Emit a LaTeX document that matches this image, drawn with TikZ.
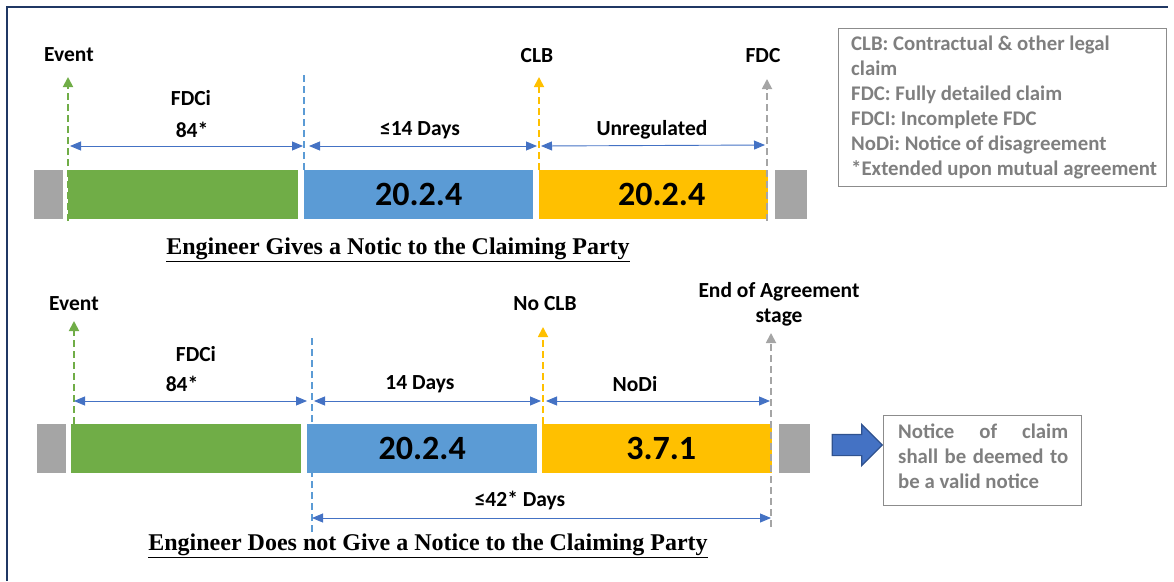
\documentclass[tikz,border=0pt]{standalone}
\usepackage{fontspec}
\setmainfont{Carlito}
\newfontfamily\titlefont{Liberation Serif}
\usetikzlibrary{arrows.meta,shapes.arrows,calc}
\frenchspacing
\definecolor{cgreen}{HTML}{70AD47}
\definecolor{cblue}{HTML}{5B9BD5}
\definecolor{cyellow}{HTML}{FFC000}
\definecolor{cgray}{HTML}{A5A5A5}
\definecolor{dimblue}{HTML}{4472C4}
\definecolor{darkblue}{HTML}{2F528F}
\definecolor{navy}{HTML}{203864}
\definecolor{lgray}{HTML}{7F7F7F}
\definecolor{bgray}{HTML}{8C8C8C}
\begin{document}
\begin{tikzpicture}[x=1pt,y=-1pt,
  seg/.style={draw=none, inner sep=0pt, minimum height=49pt, anchor=north west, font=\fontsize{34}{36}\selectfont\bfseries},
  lbl/.style={inner sep=0pt, font=\fontsize{21.5}{25}\selectfont\bfseries},
  marker/.style={dashed, dash pattern=on 7pt off 4pt, line width=1.8pt, -{Triangle[width=10pt,length=10pt]}},
  plainmark/.style={dashed, dash pattern=on 7pt off 4pt, line width=1.8pt},
  dim/.style={dimblue, line width=0.9pt, {Triangle[width=9pt,length=11pt]}-{Triangle[width=9pt,length=11pt]}},
  ttl/.style={inner sep=0pt, font=\titlefont\fontsize{24}{28}\selectfont\bfseries},
  gbox/.style={draw=bgray, line width=1.2pt},
  gtext/.style={text=lgray, inner sep=0pt, anchor=north west, font=\fontsize{20.8}{25}\selectfont\bfseries}
]
\useasboundingbox (0,0) rectangle (1174,581);
\draw[navy, line width=2.5pt] (7,581) -- (7,7) -- (1168,7);

% ---------- top timeline ----------
\node[seg, fill=cgray, minimum width=29pt] (tg0) at (34,170) {};
\node[seg, fill=cgreen, minimum width=230pt] (tg1) at (68,170) {};
\node[seg, fill=cblue, minimum width=229pt] (tb1) at (304,170) {20.2.4};
\node[seg, fill=cyellow, minimum width=229pt] (ty1) at (539,170) {\hspace*{16pt}20.2.4};
\node[seg, fill=cgray, minimum width=32pt] (tg2) at (775,170) {};

\node[lbl] (tev) at (69,55) {Event};
\node[lbl] (tclb) at (537,56) {CLB};
\node[lbl] (tfdc) at (763,56) {FDC};

\coordinate (tevb) at (68,221);
\coordinate (tevt) at (68,77);
\coordinate (tfb) at (304,170);
\coordinate (tft) at (304,73);
\coordinate (tcb) at (539,170);
\coordinate (tct) at (539,77);
\coordinate (tdb) at (767,221);
\coordinate (tdt) at (767,79);
\draw[marker, cgreen] (tevb) -- (tevt);
\draw[plainmark, cblue] (tfb) -- (tft);
\draw[marker, cyellow] (tcb) -- (tct);
\draw[marker, cgray] (tdb) -- (tdt);

\coordinate (ta0) at (70,146);
\coordinate (ta1) at (303,146);
\coordinate (ta2) at (309,146);
\coordinate (ta3) at (537,146);
\coordinate (ta4) at (541,146);
\coordinate (ta5) at (765,145);
\draw[dim] (ta0) -- (ta1);
\draw[dim] (ta2) -- (ta3);
\draw[dim] (ta4) -- (ta5);

\node[lbl] (tfdci) at (191,98) {FDCi};
\node[lbl] (t84) at (192,130) {84*};
\node[lbl] (t14) at (420,130) {≤14 Days};
\node[lbl] (tunr) at (652,130) {Unregulated};

\node[ttl] (ttitle) at (398,250) {\underline{Engineer Gives a Notic to the Claiming Party}};

% ---------- legend ----------
\node[gbox, anchor=north west, inner sep=0pt, minimum width=328pt, minimum height=158pt] (legend) at (838,28) {};
\node[gtext, align=left] (legtext) at (851,36)
 {CLB: Contractual \& other legal\\claim\\FDC: Fully detailed claim\\FDCI: Incomplete FDC\\NoDi: Notice of disagreement\\*Extended upon mutual agreement};

% ---------- bottom timeline ----------
\node[seg, fill=cgray, minimum width=29pt] (bg0) at (37,424) {};
\node[seg, fill=cgreen, minimum width=230pt] (bg1) at (71,424) {};
\node[seg, fill=cblue, minimum width=230pt] (bb1) at (307,424) {20.2.4};
\node[seg, fill=cyellow, minimum width=230pt] (by1) at (542,424) {\hspace*{8pt}3.7.1};
\node[seg, fill=cgray, minimum width=31pt] (bg2) at (779,424) {};

\node[lbl] (bev) at (74,304) {Event};
\node[lbl] (bnclb) at (545,304) {No CLB};
\node[lbl, align=center, font=\fontsize{21.5}{25}\selectfont\bfseries] (bend) at (779,304) {End of Agreement\\stage};

\coordinate (bevb) at (74,424);
\coordinate (bevt) at (74,321);
\coordinate (bfb) at (312,532);
\coordinate (bft) at (312,335);
\coordinate (bcb) at (543,424);
\coordinate (bct) at (543,327);
\coordinate (bdb) at (771,527);
\coordinate (bdt) at (771,333);
\draw[marker, cgreen] (bevb) -- (bevt);
\draw[plainmark, cblue] (bfb) -- (bft);
\draw[marker, cyellow] (bcb) -- (bct);
\draw[marker, cgray] (bdb) -- (bdt);

\coordinate (ba0) at (74,401);
\coordinate (ba1) at (307,401);
\coordinate (ba2) at (314,401);
\coordinate (ba3) at (541,401);
\coordinate (ba4) at (546,401);
\coordinate (ba5) at (770,401);
\draw[dim] (ba0) -- (ba1);
\draw[dim] (ba2) -- (ba3);
\draw[dim] (ba4) -- (ba5);
\coordinate (bl0) at (312,518);
\coordinate (bl1) at (771,518);
\draw[dim] (bl0) -- (bl1);

\node[lbl] (bfdci) at (196,354) {FDCi};
\node[lbl] (b84) at (182,384) {84*};
\node[lbl] (b14) at (420,384) {14 Days};
\node[lbl] (bnodi) at (635,384) {NoDi};
\node[lbl] (b42) at (520,500) {≤42* Days};

\node[ttl] (btitle) at (428,546) {\underline{Engineer Does not Give a Notice to the Claiming Party}};

% ---------- block arrow and note ----------
\node[single arrow, draw=darkblue, fill=dimblue, line width=1.2pt, minimum height=50pt, inner xsep=0pt, inner ysep=10pt, single arrow head extend=10pt, single arrow tip angle=90, anchor=center] (barrow) at (852,445) {};
\node[gbox, anchor=north west, minimum width=198pt, minimum height=90pt, inner sep=0pt] (note) at (883,415) {};
\node[gtext, text width=170pt, align=justify] (notetext) at (898,424)
 {Notice of claim\linebreak shall be deemed to\linebreak be a valid notice};
\end{tikzpicture}
\end{document}
